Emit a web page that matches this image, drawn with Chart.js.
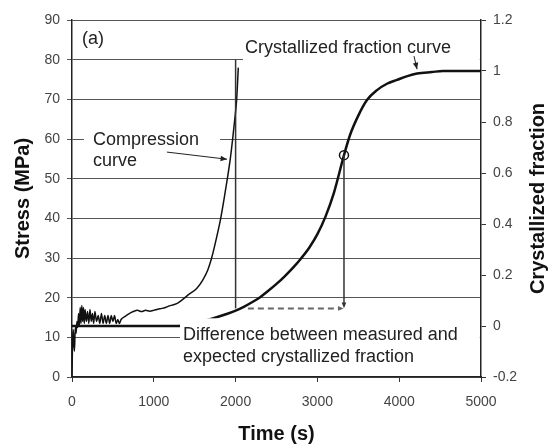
<!DOCTYPE html>
<html>
<head>
<meta charset="utf-8">
<script src="https://cdn.jsdelivr.net/npm/chart.js@4"></script>
<style>
  html, body { margin: 0; padding: 0; background: #fff; }
  canvas { display: block; }
</style>
</head>
<body>
<canvas id="chart" width="549" height="446"></canvas>
<script>
// --- Data ---
// compression curve: time (s) / stress (MPa)
const compTime = [0, 5, 10, 15, 20, 30, 40, 50, 60, 70, 80, 90, 100, 110, 120, 130, 140, 150, 160, 175,
  190, 205, 220, 235, 250, 265, 280, 300, 320, 340, 360, 380, 400, 420, 440, 460, 480, 500, 520, 540,
  560, 580, 600, 650, 700, 750, 800, 850, 900, 950, 1000, 1050, 1100, 1150, 1200, 1280, 1350, 1420,
  1524, 1600, 1660, 1707, 1760, 1818, 1860, 1899, 1935, 1964, 1990, 2013, 2033];
const compStress = [0, 7, 10.5, 12, 9, 6.5, 12.5, 11, 14, 12.5, 16, 13, 17.5, 13.5, 18, 14, 17.5, 13.5, 17, 14,
  16.5, 13.5, 17, 14, 16, 13.5, 16.5, 14, 15.5, 13.5, 16, 13.5, 15.5, 13.5, 15.5, 13.5, 15.5, 14, 15.5, 13.5,
  14.5, 13.5, 14.5, 15.3, 16, 16.5, 16.8, 16.5, 16.8, 16.6, 16.8, 17.1, 17.3, 17.6, 18, 18.5, 19.5, 20.7,
  22.3, 24.5, 27, 30, 34.5, 40, 45, 50, 55, 60, 65, 70, 78];

// crystallized fraction curve: time (s) / fraction
const crysTime = [0, 1300, 1500, 1700, 1900, 2000, 2100, 2200, 2300, 2400, 2500, 2600, 2700, 2800, 2900,
  3000, 3100, 3200, 3325, 3400, 3500, 3606, 3729, 3850, 3973, 4100, 4218, 4400, 4535, 4800, 5000];
const crysFrac = [0, 0, 0.012, 0.028, 0.048, 0.06, 0.075, 0.093, 0.113, 0.138, 0.165, 0.195, 0.228, 0.265, 0.307,
  0.36, 0.43, 0.52, 0.67, 0.75, 0.825, 0.886, 0.925, 0.95, 0.965, 0.98, 0.99, 0.996, 1.0, 1.0, 1.0];

// marked point on the crystallized curve
const markTime = [3325];
const markFrac = [0.67];

// axis ranges
const xRange = [0, 5000, 1000];
const yRange = [0, 90, 10];
const y1Range = [-0.2, 1.2, 0.2];

// annotation texts
const labelA = '(a)';
const labelComp = ['Compression', 'curve'];
const labelCrys = 'Crystallized fraction curve';
const labelDiff = ['Difference between measured and', 'expected crystallized fraction'];
const rightTitle = 'Crystallized fraction';

// --- helpers ---
const toXY = (xs, ys) => xs.map((v, i) => ({ x: v, y: ys[i] }));

function arrowHead(ctx, x0, y0, x1, y1, size) {
  const a = Math.atan2(y1 - y0, x1 - x0);
  ctx.beginPath();
  ctx.moveTo(x1, y1);
  ctx.lineTo(x1 - size * Math.cos(a - 0.4), y1 - size * Math.sin(a - 0.4));
  ctx.lineTo(x1 - size * Math.cos(a + 0.4), y1 - size * Math.sin(a + 0.4));
  ctx.closePath();
  ctx.fill();
}

const FONT = '"Liberation Sans", Arial, sans-serif';

// --- annotations drawn on top of the data ---
const annotations = {
  id: 'annotations',
  afterDatasetsDraw(chart) {
    const { ctx, scales: { x, y, y1 } } = chart;
    const px = t => x.getPixelForValue(t);
    const py = s => y.getPixelForValue(s);
    const pf = f => y1.getPixelForValue(f);
    ctx.save();

    // white label boxes hiding grid lines
    ctx.fillStyle = '#fff';
    const boxes = [[147, 62.7, 1809, 52.1], [2090, 86.7, 4985, 78.4], [1320, 14.8, 4985, 2.6]];
    boxes.forEach(b => ctx.fillRect(px(b[0]), py(b[1]), px(b[2]) - px(b[0]), py(b[3]) - py(b[1])));

    // vertical line at 2000 s
    ctx.strokeStyle = '#333';
    ctx.fillStyle = '#333';
    ctx.lineWidth = 1.5;
    ctx.beginPath();
    ctx.moveTo(px(2000), py(80));
    ctx.lineTo(px(2000), py(17.3));
    ctx.stroke();

    // dashed difference arrow
    ctx.strokeStyle = '#666';
    ctx.fillStyle = '#666';
    ctx.lineWidth = 2;
    ctx.setLineDash([6, 4]);
    ctx.beginPath();
    ctx.moveTo(px(2150), py(17.3));
    ctx.lineTo(px(3290), py(17.3));
    ctx.stroke();
    ctx.setLineDash([]);
    arrowHead(ctx, px(3200), py(17.3), px(3320), py(17.3), 6);

    // vertical drop from marker
    ctx.strokeStyle = '#333';
    ctx.fillStyle = '#333';
    ctx.lineWidth = 1.5;
    ctx.beginPath();
    ctx.moveTo(px(3325), pf(0.67));
    ctx.lineTo(px(3325), pf(0.08));
    ctx.stroke();
    arrowHead(ctx, px(3325), pf(0.2), px(3325), pf(0.07), 6);

    // pointer arrows
    ctx.strokeStyle = '#222';
    ctx.fillStyle = '#222';
    ctx.lineWidth = 1;
    ctx.beginPath();
    ctx.moveTo(px(1161), py(56.7));
    ctx.lineTo(px(1895), py(54.9));
    ctx.stroke();
    arrowHead(ctx, px(1161), py(56.7), px(1895), py(54.9), 7);
    ctx.beginPath();
    ctx.moveTo(px(4181), py(80.9));
    ctx.lineTo(px(4218), py(77.6));
    ctx.stroke();
    arrowHead(ctx, px(4181), py(80.9), px(4218), py(77.6), 7);

    // texts
    ctx.fillStyle = '#222';
    ctx.font = '18px ' + FONT;
    ctx.textAlign = 'left';
    ctx.textBaseline = 'middle';
    ctx.fillText(labelA, px(122), py(85.2));
    ctx.fillText(labelComp[0], px(257), py(59.7));
    ctx.fillText(labelComp[1], px(257), py(54.4));
    ctx.fillText(labelCrys, px(2115), py(82.9));
    ctx.fillText(labelDiff[0], px(1357), py(10.5));
    ctx.fillText(labelDiff[1], px(1357), py(5.0));

    ctx.restore();
  },
  afterDraw(chart) {
    // right axis title reads bottom-to-top
    const { ctx, chartArea } = chart;
    ctx.save();
    ctx.translate(538, (chartArea.top + chartArea.bottom) / 2);
    ctx.rotate(-Math.PI / 2);
    ctx.font = 'bold 20px ' + FONT;
    ctx.fillStyle = '#111';
    ctx.textAlign = 'center';
    ctx.textBaseline = 'middle';
    ctx.fillText(rightTitle, 0, 0);
    ctx.restore();
  }
};

const tickFont = { family: FONT, size: 14 };
const titleFont = { family: FONT, size: 20, weight: 'bold' };

new Chart(document.getElementById('chart'), {
  type: 'line',
  data: {
    datasets: [
      {
        label: 'Compression curve',
        data: toXY(compTime, compStress),
        yAxisID: 'y',
        borderColor: '#111',
        borderWidth: 1.5,
        pointRadius: 0,
        cubicInterpolationMode: 'monotone'
      },
      {
        label: 'Crystallized fraction curve',
        data: toXY(crysTime, crysFrac),
        yAxisID: 'y1',
        borderColor: '#111',
        borderWidth: 2.5,
        pointRadius: 0,
        cubicInterpolationMode: 'monotone'
      },
      {
        label: 'marker',
        data: toXY(markTime, markFrac),
        yAxisID: 'y1',
        showLine: false,
        pointStyle: 'circle',
        pointRadius: 4.5,
        borderWidth: 1.5,
        borderColor: '#111',
        backgroundColor: 'rgba(0,0,0,0)'
      }
    ]
  },
  options: {
    responsive: false,
    animation: false,
    devicePixelRatio: 1,
    layout: { padding: { top: 20, left: 0, right: 0, bottom: 0 } },
    plugins: { legend: { display: false }, tooltip: { enabled: false } },
    scales: {
      x: {
        type: 'linear',
        min: xRange[0], max: xRange[1],
        afterFit: s => { s.height = 69; },
        grid: { drawOnChartArea: false, tickLength: 5, color: '#333' },
        border: { color: '#222', width: 1.5 },
        ticks: { stepSize: xRange[2], font: tickFont, color: '#444', padding: 12, callback: v => String(v) },
        title: { display: true, text: 'Time (s)', font: titleFont, color: '#111', padding: { top: 2, bottom: 0 } }
      },
      y: {
        position: 'left',
        min: yRange[0], max: yRange[1],
        afterFit: s => { s.width = 72; },
        grid: { color: '#555', lineWidth: 1, tickLength: 5 },
        border: { color: '#222', width: 1.5 },
        ticks: { stepSize: yRange[2], font: tickFont, color: '#444', padding: 7 },
        title: { display: true, text: 'Stress (MPa)', font: titleFont, color: '#111', padding: { top: 11, bottom: 0 } }
      },
      y1: {
        position: 'right',
        min: y1Range[0], max: y1Range[1],
        afterFit: s => { s.width = 68; },
        grid: { drawOnChartArea: false, tickLength: 5, color: '#333' },
        border: { color: '#222', width: 1.5 },
        ticks: { stepSize: y1Range[2], font: tickFont, color: '#444', padding: 7,
          callback: v => String(Math.round(v * 10) / 10) },
        title: { display: false }
      }
    }
  },
  plugins: [annotations]
});
</script>
</body>
</html>
